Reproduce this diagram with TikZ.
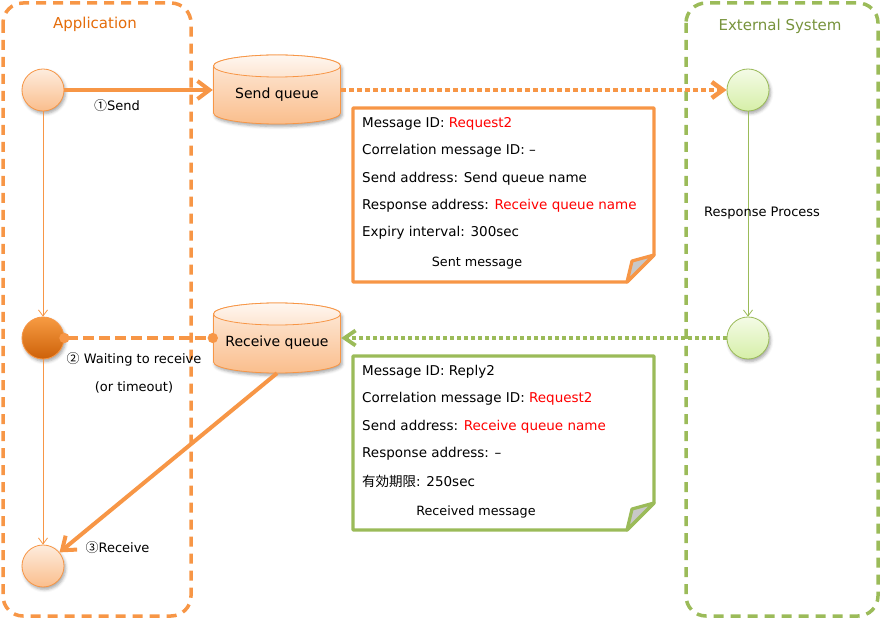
\documentclass[tikz,border=0pt]{standalone}
\usepackage{fontspec}
\setmainfont{DejaVu Sans}
\newfontfamily\jpfont{Noto Sans CJK JP}
\usetikzlibrary{arrows.meta,shadows.blur}

\definecolor{orline}{HTML}{F79646}
\definecolor{ortext}{HTML}{E46C0A}
\definecolor{grline}{HTML}{9BBB59}
\definecolor{grtext}{HTML}{77933C}
\definecolor{grtop}{HTML}{F4FBE6}
\definecolor{grbottom}{HTML}{D6EFA8}
\definecolor{msgred}{HTML}{FF0000}
\definecolor{foldgray}{HTML}{C8C8C8}

\tikzset{
  softshadow/.style={blur shadow={shadow xshift=1.5pt, shadow yshift=-2.5pt,
      shadow blur radius=3pt, shadow opacity=35}},
  lane/.style={line width=3.5pt, dash pattern=on 10pt off 7pt, rounded corners=20pt},
  lanetitle/.style={font=\fontsize{15}{18}\selectfont, inner sep=0pt},
  state/.style={circle, minimum size=42pt, inner sep=0pt, line width=0.8pt, softshadow},
  appstate/.style={state, draw=orline, top color=orline!18!white, bottom color=orline!62!white},
  waitstate/.style={state, draw=orline, top color=orline!95!yellow, bottom color=ortext!90!black},
  extstate/.style={state, draw=grline, top color=grtop, bottom color=grbottom},
  queue/.style={rectangle, minimum width=128pt, minimum height=70pt, inner sep=0pt},
  qlabel/.style={font=\fontsize{14}{17}\selectfont, inner sep=0pt},
  cylbody/.style={draw=orline, line width=0.8pt, top color=orline!18!white,
      bottom color=orline!62!white, softshadow},
  cyltop/.style={draw=orline, line width=0.8pt, top color=orline!8!white,
      bottom color=orline!25!white},
  lbl/.style={font=\fontsize{13}{16}\selectfont, inner sep=0pt},
  msg/.style={font=\fontsize{13.5}{16}\selectfont, inner sep=0pt, anchor=west},
  caption/.style={font=\fontsize{12.75}{16}\selectfont, inner sep=0pt},
  note/.style={line width=3.2pt, line join=round, fill=white},
  fold/.style={line width=3.2pt, line join=round, fill=foldgray},
  bigarrow/.style={draw=orline, line width=4pt, -{Straight Barb[length=12pt,width=18pt]}},
  orangedotted/.style={draw=orline, line width=4.5pt, dash pattern=on 4.5pt off 3.5pt,
      -{Straight Barb[length=11pt,width=16pt]}},
  greendotted/.style={draw=grline, line width=3.8pt, dash pattern=on 3.5pt off 3.5pt,
      -{Straight Barb[length=11pt,width=15pt]}},
  waitline/.style={draw=orline, line width=4pt, dash pattern=on 11pt off 5pt,
      {Circle[length=10pt]}-{Circle[length=10pt]}, shorten <=-5pt, shorten >=-5pt},
  appflow/.style={draw=orline, line width=0.8pt, -{Straight Barb[length=6pt,width=9pt]}},
  extflow/.style={draw=grline, line width=0.8pt, -{Straight Barb[length=6pt,width=9pt]}},
}

\begin{document}
\begin{tikzpicture}[x=1pt, y=-1pt]
  \useasboundingbox (0,0) rectangle (881,620);

  % swim lanes
  \draw[lane, draw=orline] (3,3) rectangle (191,616);
  \draw[lane, draw=grline] (686,3) rectangle (878,616);
  \node[lanetitle, text=ortext] (apptitle) at (95,24) {Application};
  \node[lanetitle, text=grtext] (exttitle) at (780,26) {External System};

  % queues drawn as cylinders
  \path[cylbody] (213.5,66) -- (213.5,113)
      arc[start angle=180, end angle=0, x radius=63.5, y radius=11]
      -- (340.5,66)
      arc[start angle=0, end angle=-180, x radius=63.5, y radius=11] -- cycle;
  \path[cyltop] (277,66) ellipse[x radius=63.5, y radius=11];
  \path[cylbody] (213.5,314) -- (213.5,362)
      arc[start angle=180, end angle=0, x radius=63.5, y radius=11]
      -- (340.5,314)
      arc[start angle=0, end angle=-180, x radius=63.5, y radius=11] -- cycle;
  \path[cyltop] (277,314) ellipse[x radius=63.5, y radius=11];
  \node[queue] (sq) at (277,89.5) {};
  \node[queue] (rq) at (277,338) {};
  \node[qlabel] (sqtext) at (277,95) {Send queue};
  \node[qlabel] (rqtext) at (277,343) {Receive queue};

  % states
  \node[appstate] (a1) at (43,90) {};
  \node[waitstate] (a2) at (43,338) {};
  \node[appstate] (a3) at (43,566) {};
  \node[extstate] (e1) at (748,90) {};
  \node[extstate] (e2) at (748,338) {};

  % flows inside the lanes
  \draw[appflow] (a1) -- (a2);
  \draw[appflow] (a2) -- (a3);
  \draw[extflow] (e1) -- (e2);
  \node[lbl] (resp) at (762,213) {Response Process};

  % message flows
  \draw[bigarrow] (a1.east) -- (a1.east -| sq.west);
  \draw[orangedotted] (sq.east |- e1.west) -- (e1.west);
  \draw[greendotted] (e2.west) -- (e2.west -| rq.east);
  \draw[waitline] (a2.east) -- (a2.east -| rq.west);
  \draw[bigarrow] (rq.south) -- (a3);

  \node[lbl] (sendlbl) at (117,106) {{\jpfont ①}Send};
  \node[lbl] (waitlbl) at (134,359) {{\jpfont ②} Waiting to receive};
  \node[lbl] (waitlbl2) at (134,387) {(or timeout)};
  \node[lbl] (recvlbl) at (117.5,548) {{\jpfont ③}Receive};

  % sent message note
  \draw[note, draw=orline] (353,108) -- (654,108) -- (654,255) -- (627,282) -- (353,282) -- cycle;
  \draw[fold, draw=orline] (654,255) -- (632,261) -- (627,282) -- cycle;
  \node[msg] (s1) at (362,124) {Message ID: \textcolor{msgred}{Request2}};
  \node[msg] (s2) at (362,151) {Correlation message ID: –};
  \node[msg] (s3) at (362,179) {Send address: Send queue name};
  \node[msg] (s4) at (362,206) {Response address: \textcolor{msgred}{Receive queue name}};
  \node[msg] (s5) at (362,233) {Expiry interval: 300sec};
  \node[caption] (scap) at (477,263) {Sent message};

  % received message note
  \draw[note, draw=grline] (353,356) -- (654,356) -- (654,503) -- (627,530) -- (353,530) -- cycle;
  \draw[fold, draw=grline] (654,503) -- (632,509) -- (627,530) -- cycle;
  \node[msg] (r1) at (362,372) {Message ID: Reply2};
  \node[msg] (r2) at (362,399) {Correlation message ID: \textcolor{msgred}{Request2}};
  \node[msg] (r3) at (362,427) {Send address: \textcolor{msgred}{Receive queue name}};
  \node[msg] (r4) at (362,454) {Response address: –};
  \node[msg] (r5) at (362,481) {{\jpfont 有効期限}: 250sec};
  \node[caption] (rcap) at (476,512) {Received message};
\end{tikzpicture}
\end{document}
